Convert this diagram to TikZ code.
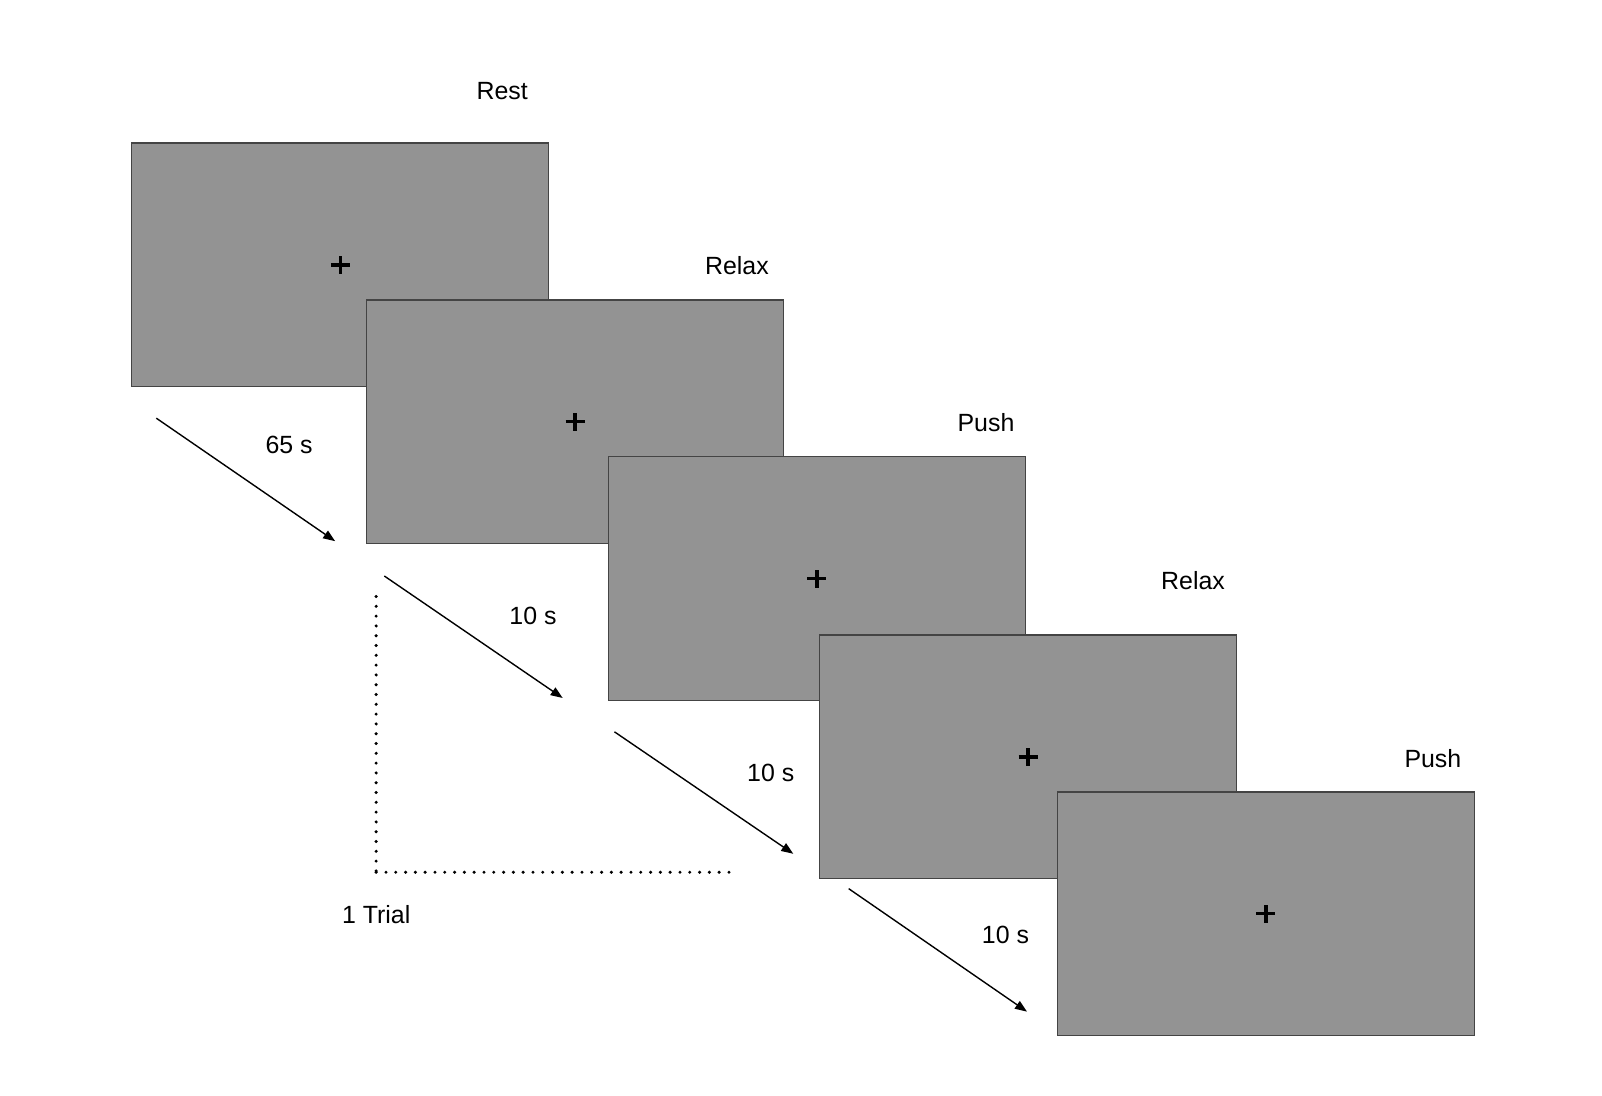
\documentclass[tikz,border=0pt]{standalone}
\usepackage{fontspec}
\setmainfont{Liberation Sans}
\usetikzlibrary{arrows.meta}
\definecolor{screengray}{HTML}{939393}
\definecolor{edgegray}{HTML}{444444}
\begin{document}
\begin{tikzpicture}[x=1.025bp,y=-1.025bp,
  screen/.style={draw=edgegray, line width=1.3bp, fill=screengray, anchor=north west,
    inner sep=0pt, minimum width=417bp, minimum height=243.5bp},
  lab/.style={font=\fontsize{25}{30}\selectfont, inner sep=0pt},
  crossmark/.style={line width=3.6bp, black},
  timearrow/.style={line width=1.4bp, -{Triangle[length=12bp,width=9bp]}},
  trialline/.style={line width=3.4bp, line cap=round, dash pattern=on 0pt off 9.8bp}]
\useasboundingbox (0,0) rectangle (1563,1069);

% screens
\node[screen] (s1) at (128,139) {};
\draw[crossmark] ([xshift=-9.5bp]s1.center) -- ([xshift=9.5bp]s1.center);
\draw[crossmark] ([yshift=-9bp]s1.center) -- ([yshift=9bp]s1.center);
\node[screen] (s2) at (357,292) {};
\draw[crossmark] ([xshift=-9.5bp]s2.center) -- ([xshift=9.5bp]s2.center);
\draw[crossmark] ([yshift=-9bp]s2.center) -- ([yshift=9bp]s2.center);
\node[screen] (s3) at (593,445) {};
\draw[crossmark] ([xshift=-9.5bp]s3.center) -- ([xshift=9.5bp]s3.center);
\draw[crossmark] ([yshift=-9bp]s3.center) -- ([yshift=9bp]s3.center);
\node[screen] (s4) at (799,619) {};
\draw[crossmark] ([xshift=-9.5bp]s4.center) -- ([xshift=9.5bp]s4.center);
\draw[crossmark] ([yshift=-9bp]s4.center) -- ([yshift=9bp]s4.center);
\node[screen] (s5) at (1031,772) {};
\draw[crossmark] ([xshift=-9.5bp]s5.center) -- ([xshift=9.5bp]s5.center);
\draw[crossmark] ([yshift=-9bp]s5.center) -- ([yshift=9bp]s5.center);

% screen titles
\node[lab] (t1) at (490,89) {Rest};
\node[lab] (t2) at (719,259) {Relax};
\node[lab] (t3) at (962,412) {Push};
\node[lab] (t4) at (1164,566) {Relax};
\node[lab] (t5) at (1398,740) {Push};

% time arrows
\coordinate (a1s) at (152.5,408); \coordinate (a1e) at (327,528);
\coordinate (a2s) at (375,562);   \coordinate (a2e) at (549,681);
\coordinate (a3s) at (599.5,714); \coordinate (a3e) at (774,833);
\coordinate (a4s) at (828,867);   \coordinate (a4e) at (1002,987);
\draw[timearrow] (a1s) -- (a1e);
\draw[timearrow] (a2s) -- (a2e);
\draw[timearrow] (a3s) -- (a3e);
\draw[timearrow] (a4s) -- (a4e);
\node[lab] (d1) at (282,434) {65 s};
\node[lab] (d2) at (520,601) {10 s};
\node[lab] (d3) at (752,754) {10 s};
\node[lab] (d4) at (981,912) {10 s};

% trial bracket
\coordinate (tr1) at (367,582);
\coordinate (tr2) at (367,851);
\coordinate (tr3) at (718,851);
\draw[trialline] (tr1) -- (tr2);
\draw[trialline] (tr2) -- (tr3);
\node[lab] (trial) at (367,892) {1 Trial};
\end{tikzpicture}
\end{document}
